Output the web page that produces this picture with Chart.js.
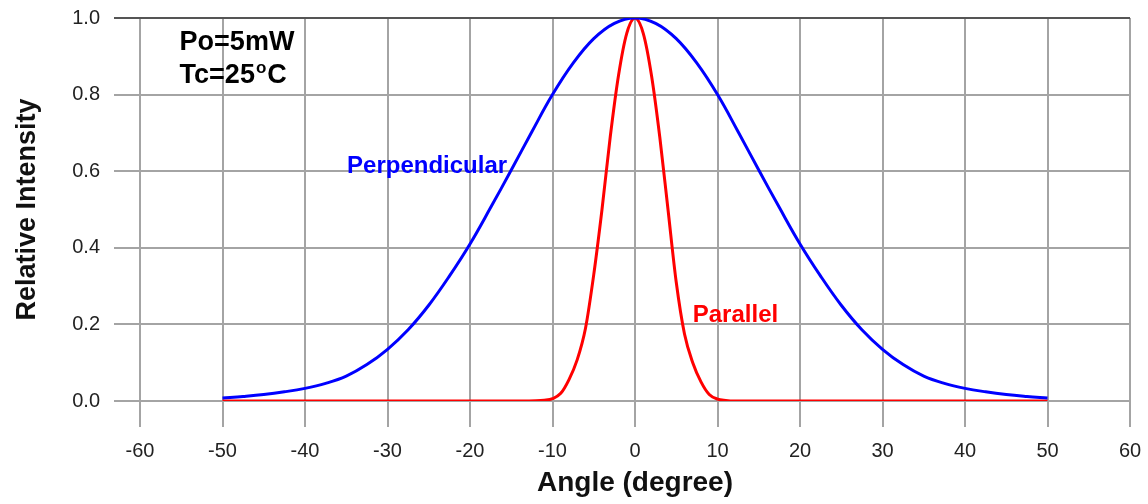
<!DOCTYPE html>
<html>
<head>
<meta charset="utf-8">
<script src="https://cdn.jsdelivr.net/npm/chart.js@4/dist/chart.umd.min.js"></script>
<style>
  html, body { margin: 0; padding: 0; background: #fff; }
  #wrap { width: 1148px; height: 504px; position: relative; }
</style>
</head>
<body>
<div id="wrap"><canvas id="beamChart"></canvas></div>
<script>
// far-field pattern
const perpAngles = [-50, -47.5, -45, -42.5, -40, -37.5, -35, -32.5, -30, -27.5, -25, -22.5, -20, -17.5, -15, -12.5, -10, -7.5, -5, -2.5,
    0, 2.5, 5, 7.5, 10, 12.5, 15, 17.5, 20, 22.5, 25, 27.5, 30, 32.5, 35, 37.5, 40, 42.5, 45, 47.5, 50];
const perpValues = [0.008, 0.012, 0.017, 0.024, 0.033, 0.046, 0.065, 0.095, 0.135, 0.186, 0.25, 0.326, 0.41, 0.505, 0.603, 0.703, 0.80, 0.882, 0.946, 0.986,
    1.0, 0.986, 0.946, 0.882, 0.80, 0.703, 0.603, 0.505, 0.41, 0.326, 0.25, 0.186, 0.135, 0.095, 0.065, 0.046, 0.033, 0.024, 0.017, 0.012, 0.008];

const parAngles = [-50, -30, -14, -12, -11, -10, -9, -8, -7, -6, -5, -4, -3, -2, -1,
    0, 1, 2, 3, 4, 5, 6, 7, 8, 9, 10, 11, 12, 14, 30, 50];
const parValues = [0, 0, 0, 0.0005, 0.002, 0.006, 0.02, 0.056, 0.108, 0.19, 0.33, 0.50, 0.69, 0.85, 0.96,
    1.0, 0.96, 0.85, 0.69, 0.50, 0.31, 0.175, 0.1, 0.05, 0.017, 0.005, 0.0015, 0, 0, 0, 0];

const xTickStep = 10;
const yTickStep = 0.2;

const toPoints = (xs, ys) => xs.map((x, i) => ({ x, y: ys[i] }));

const FONT = '"Liberation Sans", Arial, sans-serif';

// text annotations placed in data coordinates
const notes = {
    id: 'notes',
    afterDatasetsDraw(chart) {
        const { ctx, scales: { x, y } } = chart;
        ctx.save();
        ctx.textBaseline = 'alphabetic';
        ctx.textAlign = 'left';

        ctx.fillStyle = '#000';
        ctx.font = 'bold 27px ' + FONT;
        const px = x.getPixelForValue(-55.2);
        ctx.fillText('Po=5mW', px, y.getPixelForValue(0.916));

        const ty = y.getPixelForValue(0.830);
        ctx.fillText('Tc=25', px, ty);
        let w = ctx.measureText('Tc=25').width;
        ctx.font = 'bold 17px ' + FONT;
        ctx.fillText('o', px + w + 1, ty - 10);
        w += ctx.measureText('o').width + 2;
        ctx.font = 'bold 27px ' + FONT;
        ctx.fillText('C', px + w, ty);

        ctx.font = 'bold 24px ' + FONT;
        ctx.fillStyle = '#0000ff';
        ctx.fillText('Perpendicular', x.getPixelForValue(-34.9), y.getPixelForValue(0.595));
        ctx.fillStyle = '#ff0000';
        ctx.fillText('Parallel', x.getPixelForValue(7.0), y.getPixelForValue(0.206));
        ctx.restore();
    }
};

new Chart(document.getElementById('beamChart'), {
    type: 'line',
    data: {
        datasets: [
            {
                label: 'Perpendicular',
                data: toPoints(perpAngles, perpValues),
                borderColor: '#0000ff',
                borderWidth: 3,
                pointRadius: 0,
                tension: 0.4,
            },
            {
                label: 'Parallel',
                data: toPoints(parAngles, parValues),
                borderColor: '#ff0000',
                borderWidth: 3,
                pointRadius: 0,
                cubicInterpolationMode: 'monotone',
            },
        ],
    },
    options: {
        responsive: true,
        maintainAspectRatio: false,
        animation: false,
        layout: { padding: { top: 18, right: 18, left: 0, bottom: 0 } },
        plugins: {
            legend: { display: false },
            tooltip: { enabled: false },
        },
        scales: {
            x: {
                type: 'linear',
                min: -60,
                max: 60,
                afterFit: (s) => {
                    s.height = 103;
                    s.paddingLeft = 0;
                    s.paddingRight = 0;
                },
                border: { display: false },
                grid: { color: '#a4a4a4', lineWidth: 2, tickLength: 26 },
                ticks: {
                    stepSize: xTickStep,
                    padding: 12,
                    color: '#222',
                    font: { family: FONT, size: 20 },
                },
                title: {
                    display: true,
                    text: 'Angle (degree)',
                    color: '#111',
                    font: { family: FONT, size: 28, weight: 'bold' },
                    padding: { top: 0, bottom: 4 },
                },
            },
            y: {
                min: 0,
                max: 1,
                afterFit: (s) => {
                    s.width = 140;
                    s.paddingTop = 0;
                    s.paddingBottom = 0;
                },
                border: { display: false },
                grid: {
                    color: (c) => (c.tick && c.tick.value === 1 ? '#555' : '#a4a4a4'),
                    lineWidth: 2,
                    tickLength: 26,
                },
                ticks: {
                    stepSize: yTickStep,
                    padding: 14,
                    color: '#222',
                    font: { family: FONT, size: 20 },
                    callback: (v) => v.toFixed(1),
                },
                title: {
                    display: true,
                    text: 'Relative Intensity',
                    color: '#111',
                    font: { family: FONT, size: 27, weight: 'bold' },
                    padding: { top: 11, bottom: 0 },
                },
            },
        },
    },
    plugins: [notes],
});
</script>
</body>
</html>
